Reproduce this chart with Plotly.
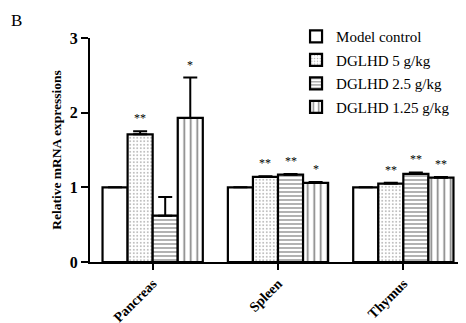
import plotly.graph_objects as go

categories = ["Pancreas", "Spleen", "Thymus"]
series_names = ["Model control", "DGLHD 5 g/kg", "DGLHD 2.5 g/kg", "DGLHD 1.25 g/kg"]
values = [
    [1.00, 1.00, 1.00],
    [1.71, 1.14, 1.05],
    [0.62, 1.17, 1.18],
    [1.93, 1.06, 1.13],
]
errors = [
    [0.0, 0.0, 0.0],
    [0.04, 0.01, 0.01],
    [0.25, 0.01, 0.02],
    [0.54, 0.01, 0.01],
]
stars = [
    ["", "", ""],
    ["**", "**", "**"],
    ["", "**", "**"],
    ["*", "*", "**"],
]
patterns = ["", ".", "-", "|"]
y_ticks = [0, 1, 2, 3]

FONT = "Liberation Serif"

fig = go.Figure()
for i, name in enumerate(series_names):
    pat = dict(shape=patterns[i], fgcolor="black", bgcolor="white", fillmode="overlay")
    if patterns[i] == ".":
        pat.update(size=3.5, solidity=0.2, fgcolor="#555555")
    elif patterns[i] == "-":
        pat.update(size=4, solidity=0.3)
    elif patterns[i] == "|":
        pat.update(size=6.5, solidity=0.25)
    fig.add_trace(go.Bar(
        x=categories, y=values[i], name=name, legendgroup=name,
        marker=dict(color="white", line=dict(color="black", width=2.2), pattern=pat),
        error_y=dict(type="data", symmetric=False, array=errors[i],
                     arrayminus=[0] * len(categories), color="black",
                     thickness=2, width=7, visible=True),
    ))

offsets = [-0.3, -0.1, 0.1, 0.3]
for i in range(len(series_names)):
    for j, cat in enumerate(categories):
        if stars[i][j]:
            fig.add_annotation(x=j + offsets[i], y=values[i][j] + errors[i][j],
                               xref="x", yref="y", text=stars[i][j], showarrow=False,
                               yanchor="bottom", yshift=4,
                               font=dict(family=FONT, size=12, color="black"))

fig.add_annotation(xref="paper", yref="paper", x=-0.215, y=1.13,
                   xanchor="left", yanchor="top", text="B", showarrow=False,
                   font=dict(family=FONT, size=17, color="black"))

fig.update_layout(
    width=458, height=315,
    margin=dict(l=82, r=0, t=30, b=61, autoexpand=False),
    paper_bgcolor="white", plot_bgcolor="white",
    barmode="group", bargap=0.2, bargroupgap=0,
    font=dict(family=FONT, color="black"),
    showlegend=True,
    legend=dict(x=0.548, y=1.08, xanchor="left", yanchor="top",
                font=dict(family=FONT, size=15, color="black"),
                tracegroupgap=1, bgcolor="rgba(0,0,0,0)"),
    xaxis=dict(range=[-0.5, 2.5], showline=True, linecolor="black", linewidth=2,
               ticks="outside", ticklen=6, tickwidth=2, tickcolor="black",
               tickangle=-45,
               tickfont=dict(family=FONT, size=14, color="black", weight="bold"),
               showgrid=False, automargin=False),
    yaxis=dict(range=[0, 3], tickvals=y_ticks, showline=True, linecolor="black", linewidth=2,
               ticks="outside", ticklen=7, tickwidth=2, tickcolor="black",
               tickfont=dict(family=FONT, size=16, color="black", weight="bold"),
               showgrid=False, zeroline=False, automargin=False,
               title=dict(text="Relative mRNA expressions", standoff=5,
                          font=dict(family=FONT, size=13.5, color="black", weight="bold"))),
)

fig.write_html("out.html")
